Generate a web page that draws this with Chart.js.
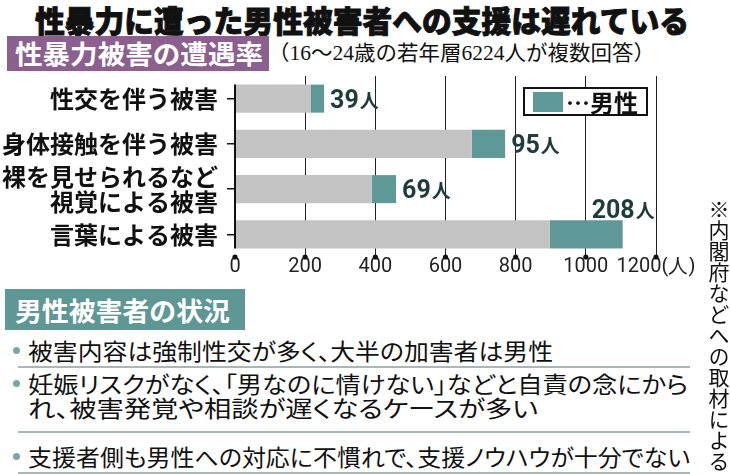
<!DOCTYPE html>
<html lang="ja">
<head>
<meta charset="utf-8">
<script src="https://cdn.jsdelivr.net/npm/chart.js@4.4.1/dist/chart.umd.min.js"></script>
<style>
html, body { margin: 0; padding: 0; background: #fff; }
body { width: 730px; height: 474px; position: relative; overflow: hidden; font-family: "Noto Sans CJK JP", sans-serif; color: #111; }
.abs { position: absolute; white-space: nowrap; }
.fit { transform-origin: 0 50%; }
#title { left: 35px; top: 4px; font-size: 30px; line-height: 30px; font-weight: 900; -webkit-text-stroke: 0.9px #111; }
.band { position: absolute; }
#band1 { left: 7px; top: 36px; width: 262px; height: 35px; background: #8b5f8e; }
#band2 { left: 5px; top: 289px; width: 240px; height: 41px; background: #5f9795; }
.bandtxt { color: #fff; font-weight: bold; font-size: 26px; line-height: 26px; }
#band1txt { left: 15px; top: 40px; }
#band2txt { left: 15px; top: 297px; }
#sub { left: 268px; top: 43px; font-size: 21px; line-height: 21px; font-family: "Liberation Serif", "Noto Sans CJK JP", serif; }
#chartBox { position: absolute; left: 0; top: 70px; width: 730px; height: 215px; }
#legend { position: absolute; left: 523px; top: 87px; width: 121px; height: 25px; border: 2px solid #111; background: #fff; }
#legend .sw { position: absolute; left: 8px; top: 3px; width: 30px; height: 20px; }
#legend .lt { position: absolute; left: 41px; top: 0; font-size: 24px; line-height: 25px; font-weight: bold; }
.bl { font-size: 23px; line-height: 23px; font-feature-settings: "palt"; }
.dot { position: absolute; width: 7px; height: 7px; border-radius: 50%; background: #7aa6a4; }
.sep { position: absolute; left: 18px; width: 672px; height: 2px; background: #a9b7b6; }
#note { position: absolute; left: 706px; top: 199px; writing-mode: vertical-rl; font-size: 21px; line-height: 22px; font-family: "Liberation Serif", "Noto Sans CJK JP", serif; }
</style>
</head>
<body>
<div id="title" class="abs fit" data-w="654">性暴力に遭った男性被害者への支援は遅れている</div>

<div id="band1" class="band"></div>
<div id="band1txt" class="abs fit bandtxt" data-w="248">性暴力被害の遭遇率</div>
<div id="sub" class="abs fit" data-w="387">（16〜24歳の若年層6224人が複数回答）</div>

<div id="chartBox"><canvas id="chart"></canvas></div>
<div id="legend"><div class="sw" id="legendSwatch"></div><div class="lt">…男性</div></div>

<div id="band2" class="band"></div>
<div id="band2txt" class="abs fit bandtxt" data-w="215">男性被害者の状況</div>

<div class="dot" style="left:13px; top:347px;"></div>
<div class="abs fit bl" style="left:28px; top:339px;" data-w="525">被害内容は強制性交が多く、大半の加害者は男性</div>
<div class="sep" style="top:366px;"></div>
<div class="dot" style="left:13px; top:380px;"></div>
<div class="abs fit bl" style="left:28px; top:372px;" data-w="660">妊娠リスクがなく、「男なのに情けない」などと自責の念にから</div>
<div class="abs fit bl" style="left:28px; top:396px;" data-w="510">れ、被害発覚や相談が遅くなるケースが多い</div>
<div class="sep" style="top:431px;"></div>
<div class="dot" style="left:13px; top:453px;"></div>
<div class="abs fit bl" style="left:28px; top:445px;" data-w="662">支援者側も男性への対応に不慣れで、支援ノウハウが十分でない</div>
<div class="sep" style="top:472px;"></div>

<div id="note">※内閣府などへの取材による</div>

<script>
// data
const categories = ['性交を伴う被害', '身体接触を伴う被害', ['裸を見せられるなど', '視覚による被害'], '言葉による被害'];
const otherValues = [215, 675, 390, 897];
const maleValues = [39, 95, 69, 208];
const xTicks = [0, 200, 400, 600, 800, 1000, 1200];
const unitLabel = '(人)';
const valueUnit = '人';

const GRAY = '#c3c3c3';
const TEAL = '#5f9997';
const LABEL_COLOR = '#1f3b3b';

document.getElementById('legendSwatch').style.background = TEAL;

// squeeze/stretch text lines to the widths measured on the picture
document.querySelectorAll('.fit').forEach(el => {
    const target = parseFloat(el.dataset.w);
    const w = el.getBoundingClientRect().width;
    if (w > 0) el.style.transform = 'scaleX(' + (target / w) + ')';
});

const decorPlugin = {
    id: 'decor',
    afterDatasetsDraw(chart) {
        const { ctx, chartArea } = chart;
        const x = chart.scales.x;
        const bars = chart.getDatasetMeta(0).data;
        const first = bars[0];
        const last = bars[bars.length - 1];

        ctx.save();
        // axis line only along the bars
        ctx.strokeStyle = '#111';
        ctx.lineWidth = 2;
        ctx.beginPath();
        ctx.moveTo(x.left, first.y - first.height / 2);
        ctx.lineTo(x.left, last.y + last.height / 2);
        ctx.stroke();

        // dots at the foot of the grid lines
        ctx.fillStyle = '#111';
        x.ticks.forEach(t => {
            ctx.beginPath();
            ctx.arc(x.getPixelForValue(t.value), chartArea.bottom, 2.6, 0, Math.PI * 2);
            ctx.fill();
        });

        // male count labels
        chart.getDatasetMeta(1).data.forEach((bar, i) => {
            const num = String(maleValues[i]);
            const numFont = 'bold 25px Roboto, "Liberation Sans", sans-serif';
            const unitFont = 'bold 19px "Noto Sans CJK JP", sans-serif';
            ctx.font = numFont;
            const w1 = ctx.measureText(num).width;
            ctx.font = unitFont;
            const w2 = ctx.measureText(valueUnit).width;
            let sx, base;
            if (bar.x + 6 + w1 + w2 > chartArea.right) {
                sx = bar.x - (w1 + w2) / 2;
                base = bar.y - bar.height / 2 - 2;
            } else {
                sx = bar.x + 6;
                base = bar.y + 9;
            }
            ctx.fillStyle = LABEL_COLOR;
            ctx.textBaseline = 'alphabetic';
            ctx.textAlign = 'left';
            ctx.font = numFont;
            ctx.fillText(num, sx, base);
            ctx.font = unitFont;
            ctx.fillText(valueUnit, sx + w1 + 1, base);
        });
        ctx.restore();
    }
};

new Chart(document.getElementById('chart'), {
    type: 'bar',
    data: {
        labels: categories,
        datasets: [
            { label: 'その他', data: otherValues, backgroundColor: GRAY },
            { label: '男性', data: maleValues, backgroundColor: TEAL }
        ]
    },
    options: {
        indexAxis: 'y',
        responsive: true,
        maintainAspectRatio: false,
        animation: false,
        events: [],
        layout: { padding: { top: 6, right: 74, left: 0, bottom: 8 } },
        datasets: { bar: { barPercentage: 0.62, categoryPercentage: 1, borderWidth: 0 } },
        plugins: {
            legend: { display: false },
            tooltip: { enabled: false }
        },
        scales: {
            x: {
                stacked: true,
                min: 0,
                max: 1200,
                afterBuildTicks(scale) {
                    scale.ticks = xTicks.map(v => ({ value: v }));
                },
                afterFit(scale) {
                    scale.paddingLeft = 0;
                    scale.paddingRight = 0;
                },
                grid: {
                    color: ctx => (ctx.tick && ctx.tick.value === 0) ? 'rgba(0,0,0,0)' : '#222',
                    lineWidth: 1,
                    drawTicks: false
                },
                border: { display: false },
                ticks: {
                    padding: 0,
                    maxRotation: 0,
                    autoSkip: false,
                    color: '#222',
                    font: { family: 'Roboto, "Liberation Sans", sans-serif', size: 20, lineHeight: 1 },
                    callback: v => v === xTicks[xTicks.length - 1] ? v + unitLabel : String(v)
                }
            },
            y: {
                stacked: true,
                afterFit(scale) {
                    scale.width = 235;
                    scale.paddingTop = 0;
                    scale.paddingBottom = 0;
                },
                grid: {
                    display: true,
                    drawOnChartArea: false,
                    offset: false,
                    tickLength: 8,
                    color: '#111',
                    lineWidth: 1.5
                },
                border: { display: false },
                ticks: {
                    padding: 9,
                    autoSkip: false,
                    color: '#111',
                    font: { family: '"Noto Sans CJK JP", sans-serif', size: 24, weight: 'bold', lineHeight: 1.05 }
                }
            }
        }
    },
    plugins: [decorPlugin]
});
</script>
</body>
</html>
